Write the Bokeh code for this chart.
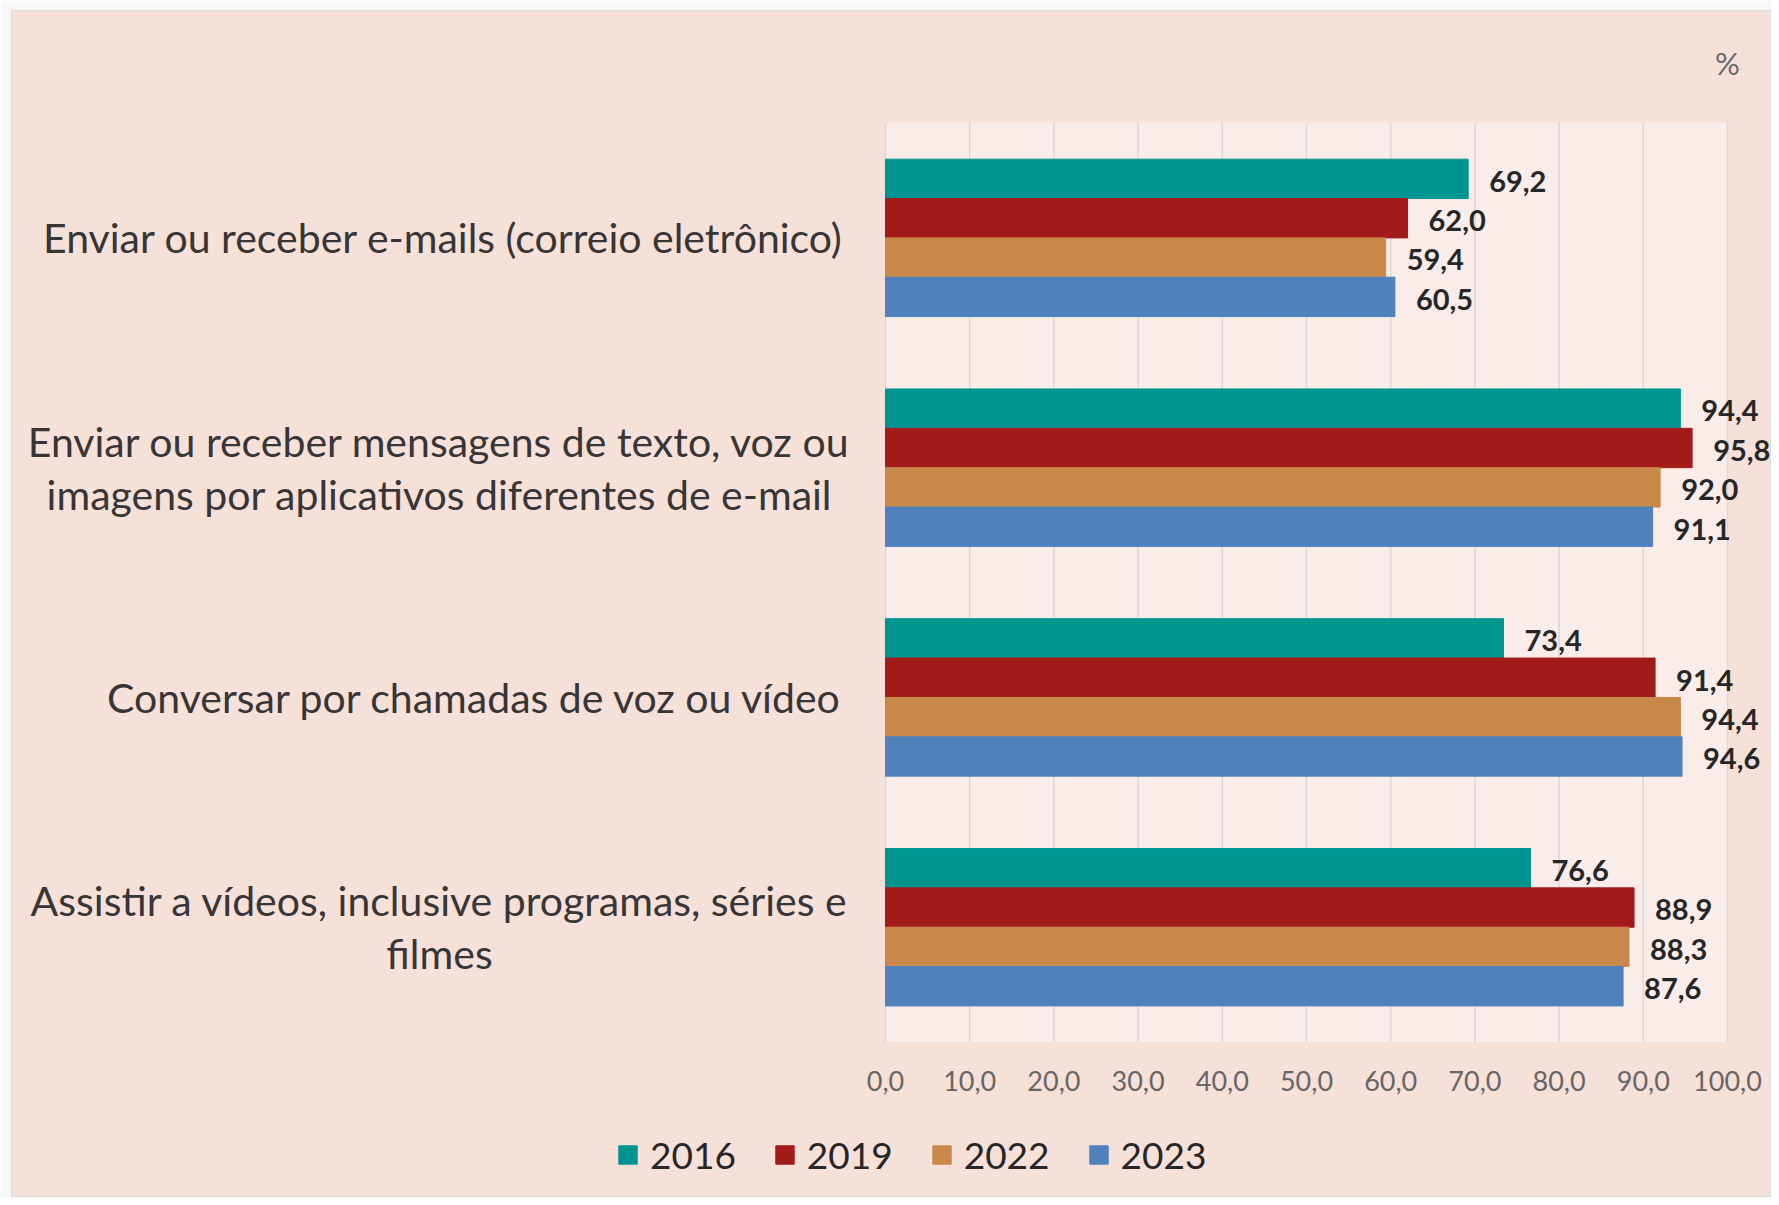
from bokeh.plotting import figure
from bokeh.models import Range1d, Label, Legend, LegendItem, ColumnDataSource
from bokeh.core.properties import value
from bokeh.embed import file_html
from bokeh.resources import INLINE

# ---------------- data ----------------
category_lines = [
    ["Enviar ou receber e-mails (correio eletrônico)"],
    ["Enviar ou receber mensagens de texto, voz ou",
     "imagens por aplicativos diferentes de e-mail"],
    ["Conversar por chamadas de voz ou vídeo"],
    ["Assistir a vídeos, inclusive programas, séries e", "filmes"],
]
years = ["2016", "2019", "2022", "2023"]
v2016 = [69.2, 94.4, 73.4, 76.6]
v2019 = [62.0, 95.8, 91.4, 88.9]
v2022 = [59.4, 92.0, 94.4, 88.3]
v2023 = [60.5, 91.1, 94.6, 87.6]
series = [v2016, v2019, v2022, v2023]
colors = ["#009490", "#A31A1A", "#C8894A", "#4F81BD"]
tick_values = [0, 10, 20, 30, 40, 50, 60, 70, 80, 90, 100]
tick_labels = ["0,0", "10,0", "20,0", "30,0", "40,0", "50,0",
               "60,0", "70,0", "80,0", "90,0", "100,0"]
unit_label = "%"

# ---------------- layout (pixels) ----------------
PAGE_BG = "#F7F7F7"
PANEL_BG = "#F6E1D9"
PLOT_BG = "#FAECE8"
FONT = "Lato"
n = len(category_lines)
FW, FH = 1760, 1187          # frame (= panel) size
PL, PR = 874, 1716           # plot area left/right inside the frame
PT, PB = 112.5, 1031.6       # plot area top/bottom inside the frame
sx = (PR - PL) / 100.0
sy = (PB - PT) / n
bar_h = 0.1713

p = figure(
    output_backend="svg", toolbar_location=None,
    frame_width=FW, frame_height=FH,
    min_border_left=11, min_border_top=10,
    min_border_right=0, min_border_bottom=0,
    x_range=Range1d(-PL / sx, (FW - PL) / sx),
    y_range=Range1d(-(FH - PB) / sy, n + PT / sy),
    background_fill_color=PANEL_BG, border_fill_color=PAGE_BG,
    outline_line_color="#DCDCDC", outline_line_width=1,
)
p.axis.visible = False
p.grid.visible = False

# plot area background and vertical grid lines
p.quad(left=0, right=100, bottom=0, top=n, fill_color=PLOT_BG, line_color=None)
p.segment(x0=tick_values, y0=[0] * len(tick_values),
          x1=tick_values, y1=[n] * len(tick_values),
          line_color="#D9D9D9", line_width=1.5)

legend_items = []
for j, (yr, vals, col) in enumerate(zip(years, series, colors)):
    ys = [n - k - 0.5 + (1.5 - j) * bar_h for k in range(n)]
    src = ColumnDataSource(dict(y=ys, ly=[y - 2.3 / sy for y in ys], right=vals,
                                lab=[f"{v:.1f}".replace(".", ",") for v in vals]))
    r = p.hbar(y="y", left=0, right="right", height=bar_h, source=src,
               fill_color=col, line_color=col, line_width=1)
    p.text(x="right", y="ly", text="lab", source=src, x_offset=21,
           text_align="left", text_baseline="middle",
           text_font=value(FONT), text_font_style="bold",
           text_font_size="29px", text_color="#262626")
    legend_items.append(LegendItem(label=yr, renderers=[r]))

# x tick labels
tick_y = -(1080 - 10 - PB) / sy
p.text(x=tick_values, y=[tick_y] * len(tick_values), text=tick_labels,
       text_align="center", text_baseline="middle",
       text_font=value(FONT), text_font_size="27px", text_color="#666666")

# category labels
for k, lines in enumerate(category_lines):
    yc = n - k - 0.5
    if len(lines) == 1:
        p.add_layout(Label(x=0, y=yc, x_offset=-42, text=lines[0],
                           text_align="right", text_baseline="middle",
                           text_font=FONT, text_font_size="41px",
                           text_color="#363636"))
    else:
        dy = 26.5 / sy
        for i, ln in enumerate(lines):
            p.add_layout(Label(x=0, y=yc + dy * (1 - 2 * i), x_offset=-446,
                               text=ln, text_align="center",
                               text_baseline="middle",
                               text_font=FONT, text_font_size="41px",
                               text_color="#363636"))

p.add_layout(Label(x=100, y=n + (PT - 52) / sy, text=unit_label,
                   text_align="center", text_baseline="middle",
                   text_font=FONT, text_font_size="31px", text_color="#6A6A6A"))

legend = Legend(items=legend_items, orientation="horizontal",
                location=(605, 20), glyph_width=23, glyph_height=23,
                label_standoff=11, spacing=37, padding=0, margin=0,
                background_fill_alpha=0, border_line_color=None,
                label_text_font=FONT, label_text_font_size="37px",
                label_text_color="#262626", label_height=23)
p.add_layout(legend, "center")

open("out.html", "w").write(file_html(p, INLINE))
